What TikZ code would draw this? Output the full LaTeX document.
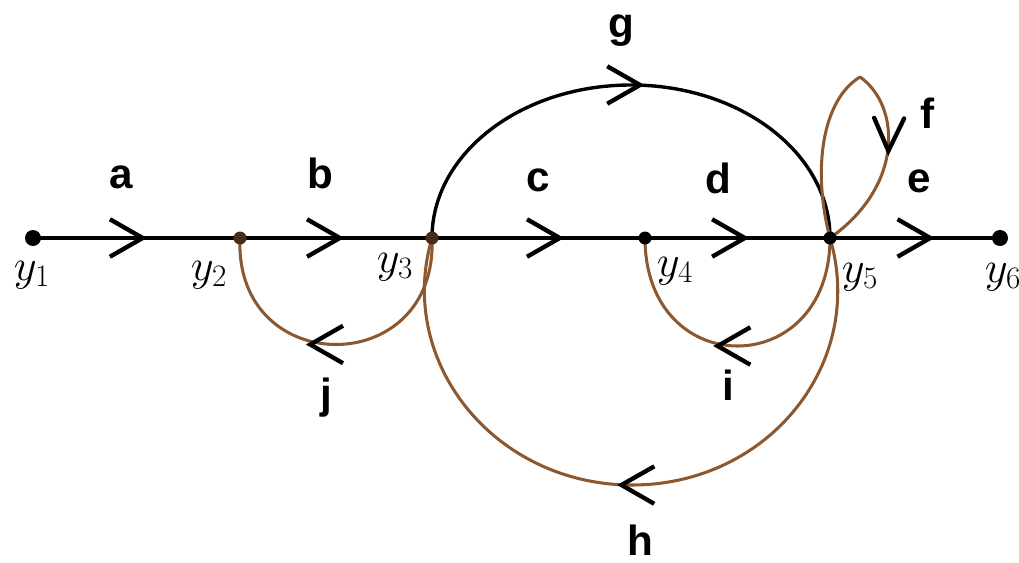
\RequirePackage{fix-cm}
\documentclass[tikz,border=0pt]{standalone}
\usepackage{fontspec}
\newfontfamily\lblfont{Liberation Sans}
\usetikzlibrary{decorations.markings}
\pgfdeclarelayer{bg}
\pgfsetlayers{bg,main}
\definecolor{brn}{RGB}{140,88,48}
\definecolor{dotbrn}{RGB}{75,42,22}
\tikzset{
  mainline/.style={black,line width=3.4pt},
  gline/.style={black,line width=2.9pt},
  bline/.style={brn,line width=2.6pt},
  % chevron: position, tip shift along the path, half width
  chev/.style n args={3}{postaction={decorate,decoration={markings,
      mark=at position #1 with {\draw[black,line width=3.7pt]
        ({#2-28pt},{#3}) -- ({#2},0pt) -- ({#2-28pt},{-#3});}}}},
  bigdot/.style={circle,fill=black,inner sep=0pt,minimum size=4.8mm},
  smalldot/.style={circle,fill=black,inner sep=0pt,minimum size=3.9mm},
  elbl/.style={anchor=base,inner sep=0pt,font=\lblfont\bfseries\fontsize{36pt}{40pt}\selectfont},
  ylbl/.style={anchor=base,inner sep=0pt,font=\fontsize{38pt}{42pt}\selectfont}
}
\begin{document}
\begin{tikzpicture}[x=0.03cm,y=-0.03cm]
\useasboundingbox (0,0) rectangle (1019,562);
% signal nodes
\node[bigdot] (y1) at (33,238) {};
\node[smalldot,fill=dotbrn] (y2) at (240,238) {};
\node[smalldot,fill=dotbrn] (y3) at (432,238) {};
\node[smalldot] (y4) at (645,238) {};
\node[smalldot] (y5) at (830,238) {};
\node[bigdot] (y6) at (1000,238) {};
\coordinate (gtop) at (631,85);
\coordinate (hbot) at (632,485);
\coordinate (ftop) at (860,77);
\begin{pgfonlayer}{bg}
% forward path
\draw[mainline,chev={0.53}{0pt}{16pt}] (y1.center) -- (y2.center);
\draw[mainline,chev={0.52}{0pt}{16pt}] (y2.center) -- (y3.center);
\draw[mainline,chev={0.6}{0pt}{16pt}] (y3.center) -- (y4.center);
\draw[mainline,chev={0.54}{0pt}{16pt}] (y4.center) -- (y5.center);
\draw[mainline,chev={0.59}{0pt}{16pt}] (y5.center) -- (y6.center);
% g
\draw[gline,chev={0.5}{7.7pt}{16pt}] (y3.center) .. controls (432,153.5) and (521,85) .. (gtop)
  .. controls (741,85) and (830,153.5) .. (y5.center);
% h
\draw[bline,chev={0.5}{8.5pt}{16pt}] (y5.center) .. controls (866.6,362.5) and (769,485) .. (hbot)
  .. controls (495,485) and (395.4,362.5) .. (y3.center);
% i
\draw[bline,chev={0.5}{17pt}{16pt}] (y5.center) .. controls (830,382) and (645,382) .. (y4.center);
% j
\draw[bline,chev={0.5}{22pt}{16pt}] (y3.center) .. controls (438,380) and (234,380) .. (y2.center);
% f (self loop)
\draw[bline,line cap=round] (y5.center) .. controls (812,170) and (822,100) .. (ftop);
\draw[bline,line cap=round,chev={0.38}{9pt}{12.8pt}] (ftop) .. controls (900,105) and (905,185) .. (y5.center);
\end{pgfonlayer}
% gain labels
\node[elbl] (la) at (121,188) {a};
\node[elbl] (lb) at (320,188) {b};
\node[elbl] (lc) at (538,191) {c};
\node[elbl] (ld) at (718,193) {d};
\node[elbl] (le) at (919,192) {e};
\node[elbl] (lf) at (928,128) {f};
\node[elbl] (lg) at (621,38) {g};
\node[elbl] (lh) at (640,555) {h};
\node[elbl] (li) at (728,400) {i};
\node[elbl] (lj) at (326,408) {j};
% node labels
\node[ylbl] (ly1) at (32,280) {$y_1$};
\node[ylbl] (ly2) at (209,280) {$y_2$};
\node[ylbl] (ly3) at (395,272) {$y_3$};
\node[ylbl] (ly4) at (675,276) {$y_4$};
\node[ylbl] (ly5) at (860,282) {$y_5$};
\node[ylbl] (ly6) at (1003,282) {$y_6$};
\end{tikzpicture}
\end{document}
